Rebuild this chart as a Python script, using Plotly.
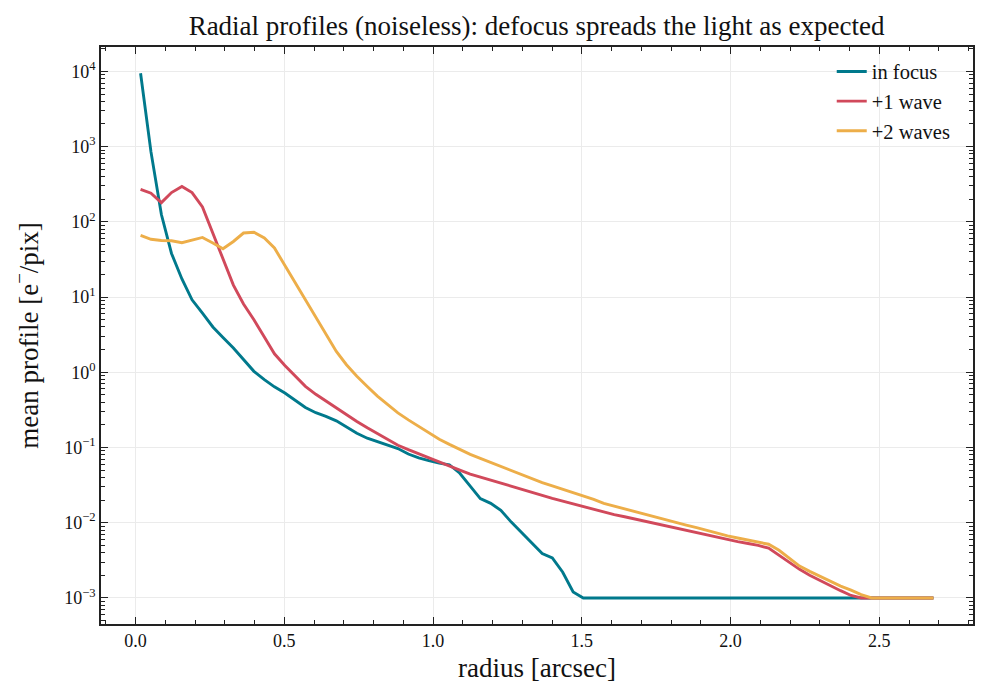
import plotly.graph_objects as go

# radius grid (arcsec), bin centres
radius = [0.017, 0.052, 0.087, 0.121, 0.156, 0.190, 0.225, 0.260, 0.294, 0.329,
          0.363, 0.398, 0.433, 0.467, 0.502, 0.536, 0.571, 0.606, 0.640, 0.675,
          0.709, 0.744, 0.779, 0.813, 0.848, 0.882, 0.917, 0.952, 0.986, 1.021,
          1.055, 1.090, 1.125, 1.159, 1.194, 1.228, 1.263, 1.297, 1.332, 1.367,
          1.401, 1.436, 1.471, 1.505, 1.540, 1.574, 1.609, 1.644, 1.678, 1.713,
          1.747, 1.782, 1.817, 1.851, 1.886, 1.920, 1.955, 1.990, 2.024, 2.059,
          2.093, 2.128, 2.163, 2.197, 2.232, 2.266, 2.301, 2.336, 2.370, 2.405,
          2.439, 2.474, 2.509, 2.543, 2.578, 2.612, 2.647, 2.682]

in_focus = [9440, 850, 125, 38, 17.4, 9.2, 6.1, 4.0, 2.9, 2.1,
            1.48, 1.03, 0.80, 0.64, 0.53, 0.42, 0.34, 0.29, 0.26, 0.226,
            0.187, 0.155, 0.133, 0.120, 0.109, 0.097, 0.082, 0.073, 0.067, 0.062,
            0.059, 0.0455, 0.0307, 0.0209, 0.0181, 0.0146, 0.0102, 0.0074, 0.0054, 0.0039,
            0.0034, 0.0022, 0.0012, 0.001, 0.001, 0.001, 0.001, 0.001, 0.001, 0.001,
            0.001, 0.001, 0.001, 0.001, 0.001, 0.001, 0.001, 0.001, 0.001, 0.001,
            0.001, 0.001, 0.001, 0.001, 0.001, 0.001, 0.001, 0.001, 0.001, 0.001,
            0.001, 0.001, 0.001, 0.001, 0.001, 0.001, 0.001, 0.001]

one_wave = [270, 240, 180, 245, 295, 245, 158, 72, 33, 14.4,
            8.1, 5.0, 2.95, 1.76, 1.23, 0.90, 0.65, 0.51, 0.415, 0.33,
            0.27, 0.222, 0.183, 0.152, 0.128, 0.107, 0.0935, 0.082, 0.073, 0.064,
            0.0566, 0.050, 0.0444, 0.0404, 0.0367, 0.0334, 0.0304, 0.0277, 0.0251, 0.0231,
            0.0211, 0.0194, 0.0177, 0.0163, 0.0149, 0.0137, 0.0128, 0.0120, 0.0112, 0.0104,
            0.0098, 0.0091, 0.0085, 0.0079, 0.0074, 0.0069, 0.0065, 0.0060, 0.0056, 0.0053,
            0.0050, 0.0046, 0.0037, 0.0030, 0.0024, 0.0020, 0.0017, 0.00145, 0.00125, 0.00108,
            0.001, 0.001, 0.001, 0.001, 0.001, 0.001, 0.001, 0.001]

two_waves = [66, 58.7, 56.6, 56, 52.8, 57.8, 62, 52.2, 43.9, 54.8,
             71, 72.7, 61, 44.9, 26.2, 15.6, 9.0, 5.36, 3.25, 1.89,
             1.26, 0.887, 0.648, 0.483, 0.373, 0.289, 0.233, 0.190, 0.155, 0.129,
             0.110, 0.094, 0.081, 0.0716, 0.063, 0.0554, 0.049, 0.043, 0.038, 0.0341,
             0.0308, 0.0278, 0.0251, 0.0226, 0.0205, 0.0181, 0.0166, 0.0153, 0.0141, 0.0130,
             0.0119, 0.0110, 0.0101, 0.0093, 0.0086, 0.0079, 0.0073, 0.0067, 0.00627, 0.00588,
             0.00552, 0.00518, 0.0043, 0.0034, 0.00265, 0.00226, 0.00193, 0.00165, 0.00144, 0.00127,
             0.00111, 0.001, 0.001, 0.001, 0.001, 0.001, 0.001, 0.001]

names = ["in focus", "+1 wave", "+2 waves"]
colors = ["#00798c", "#d1495b", "#edae49"]

# y tick labels
y_tickvals = [1e-3, 1e-2, 1e-1, 1e0, 1e1, 1e2, 1e3, 1e4]
y_ticktext = ["10<sup>\u22123</sup>", "10<sup>\u22122</sup>", "10<sup>\u22121</sup>", "10<sup>0</sup>",
              "10<sup>1</sup>", "10<sup>2</sup>", "10<sup>3</sup>", "10<sup>4</sup>"]

serif = "Liberation Serif"
ink = "#111111"

fig = go.Figure()
for name, vals, col in zip(names, [in_focus, one_wave, two_waves], colors):
    fig.add_trace(go.Scatter(x=radius, y=vals, mode="lines", name=name,
                             line=dict(color=col, width=2.9)))

# minor tick positions on the log axis (2..9 per decade)
y_minor = [m * 10.0 ** e for e in range(-4, 5) for m in range(2, 10)]

axis_common = dict(showline=True, linecolor="#222222", linewidth=1.6, mirror="allticks",
                   ticks="inside", ticklen=7, tickwidth=1.4, tickcolor="#222222",
                   showgrid=True, gridcolor="#ebebeb", gridwidth=0.8, zeroline=False,
                   automargin=False,
                   tickfont=dict(family=serif, size=18, color=ink))

fig.update_xaxes(range=[-0.116, 2.815], tick0=0, dtick=0.5, tickformat=".1f",
                 minor=dict(ticks="inside", ticklen=4, tickwidth=1, tickcolor="#222222",
                            dtick=0.1, tick0=0, showgrid=False),
                 title=dict(text="radius [arcsec]", font=dict(family=serif, size=27, color=ink),
                            standoff=8),
                 **axis_common)
fig.update_yaxes(type="log", range=[-3.346, 4.324], tickmode="array",
                 tickvals=y_tickvals, ticktext=y_ticktext,
                 minor=dict(ticks="inside", ticklen=4, tickwidth=1, tickcolor="#222222",
                            tickvals=y_minor, showgrid=False),
                 title=dict(text="mean profile [e<sup>\u2212</sup>/pix]",
                            font=dict(family=serif, size=27, color=ink), standoff=18),
                 **axis_common)

fig.update_layout(
    width=987, height=700,
    margin=dict(l=101, r=14, t=47, b=76),
    paper_bgcolor="white", plot_bgcolor="white",
    title=dict(text="Radial profiles (noiseless): defocus spreads the light as expected",
               x=0.5436, xanchor="center", y=0.964, yanchor="middle",
               font=dict(family=serif, size=27, color=ink)),
    legend=dict(x=0.838, y=0.992, xanchor="left", yanchor="top",
                bgcolor="rgba(255,255,255,0)", borderwidth=0,
                font=dict(family=serif, size=20.5, color=ink)),
    showlegend=True,
)

# drop the default page margin so the figure sits at the window's top-left corner
fig.write_html("out.html", config={"displayModeBar": False},
               post_script="document.body.style.margin='0';")
